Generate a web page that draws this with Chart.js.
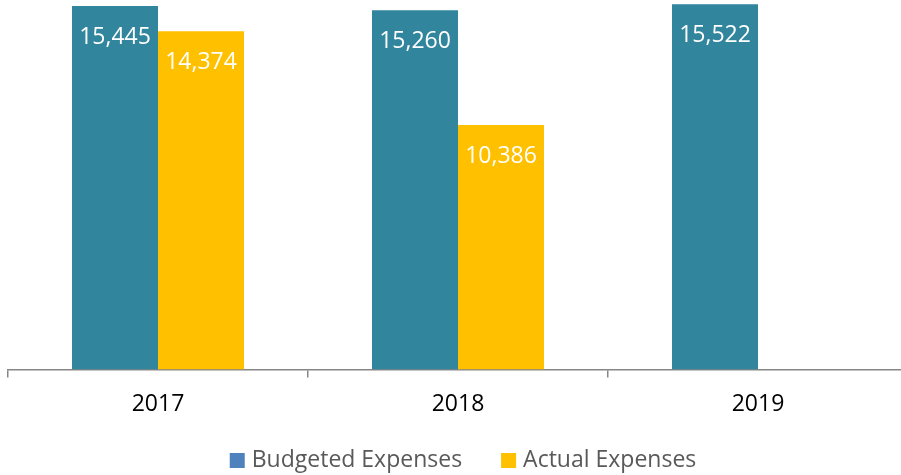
<!DOCTYPE html>
<html>
<head>
<meta charset="utf-8">
<script src="https://cdn.jsdelivr.net/npm/chart.js@4/dist/chart.umd.min.js"></script>
<style>
  html, body { margin: 0; padding: 0; background: #fff; overflow: hidden; }
  #wrap { width: 901px; height: 475px; overflow: hidden; }
</style>
</head>
<body>
<div id="wrap"><canvas id="chart" width="916" height="475"></canvas></div>
<script>
// the data
const years = ["2017", "2018", "2019"];
const budgeted = [15445, 15260, 15522];
const actual = [14374, 10386, null];
const series_names = ["Budgeted Expenses", "Actual Expenses"];

const teal = "#31859C";
const gold = "#FFC000";
// the legend swatch for the budget is blue, not teal
const legend_colors = ["#4F81BD", gold];
const font_family = "'Open Sans', sans-serif";

// white value labels sitting a bit below the top of each bar
const bar_labels = {
  id: "bar_labels",
  afterDatasetsDraw(chart) {
    const ctx = chart.ctx;
    ctx.save();
    ctx.fillStyle = "#fff";
    ctx.font = "23px " + font_family;
    ctx.textAlign = "center";
    ctx.textBaseline = "middle";
    chart.data.datasets.forEach(function(ds, i) {
      chart.getDatasetMeta(i).data.forEach(function(bar, j) {
        const v = ds.data[j];
        if (v == null) return;
        ctx.fillText(v.toLocaleString("en-US"), bar.x, bar.y + 31);
      });
    });
    ctx.restore();
  }
};

// simple legend at the bottom: square swatch, small gap, text
const bottom_legend = {
  id: "bottom_legend",
  afterDraw(chart) {
    const ctx = chart.ctx;
    ctx.save();
    ctx.font = "23px " + font_family;
    ctx.textBaseline = "middle";
    const box = 15, gap = 7, between = 39;
    const widths = series_names.map((t) => ctx.measureText(t).width);
    let total = 0;
    widths.forEach((w) => { total += box + gap + w; });
    total += between * (series_names.length - 1);
    let x = 463 - total / 2;
    const y = 460;
    series_names.forEach(function(name, i) {
      ctx.fillStyle = legend_colors[i];
      ctx.fillRect(x, y - 7, box, box);
      x += box + gap;
      ctx.fillStyle = "#595959";
      ctx.fillText(name, x, y);
      x += widths[i] + between;
    });
    ctx.restore();
  }
};

new Chart(document.getElementById("chart").getContext("2d"), {
  type: "bar",
  data: {
    labels: years,
    datasets: [
      { label: series_names[0], data: budgeted, backgroundColor: teal },
      { label: series_names[1], data: actual, backgroundColor: gold }
    ]
  },
  options: {
    responsive: false,
    animation: false,
    layout: { padding: { left: 8, right: 8, top: 0, bottom: 43 } },
    datasets: { bar: { barPercentage: 1, categoryPercentage: 0.5733 } },
    plugins: {
      tooltip: { enabled: false },
      legend: { display: false }
    },
    scales: {
      x: {
        border: { display: true, color: "#868686", width: 1.5 },
        grid: { display: true, drawOnChartArea: false, offset: true, tickLength: 8, color: "#868686", lineWidth: 1.5 },
        ticks: { color: "#000", padding: 13.5, font: { family: font_family, size: 23 } }
      },
      y: {
        display: false,
        min: 0,
        max: 15700
      }
    }
  },
  plugins: [bar_labels, bottom_legend]
});
</script>
</body>
</html>
